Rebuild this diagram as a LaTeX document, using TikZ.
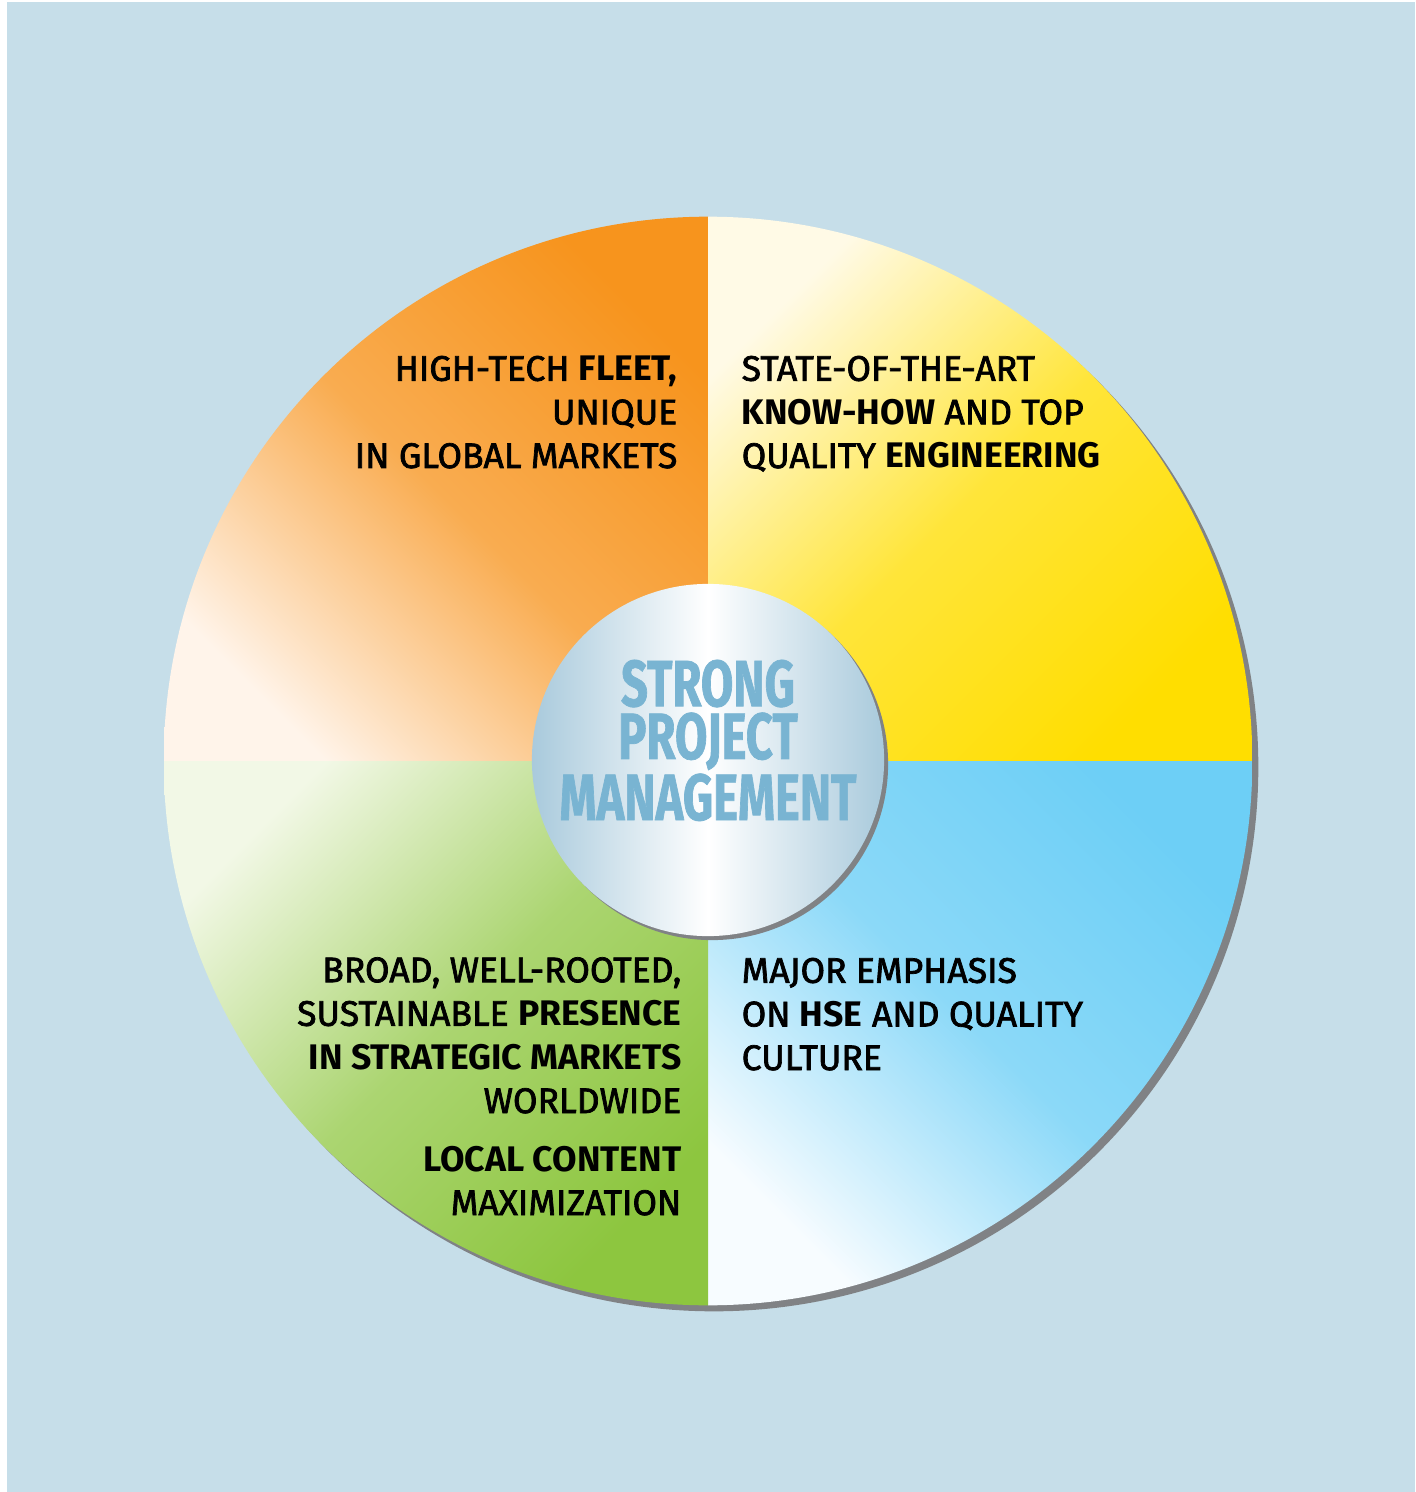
\documentclass[tikz,border=0pt]{standalone}
\usepackage{fontspec}
\setmainfont{Fira Sans}[UprightFeatures={FakeBold=2}]
\newfontfamily\condfont{Fira Sans}[FakeStretch=0.72, BoldFeatures={FakeBold=1}]

\definecolor{bgblue}{HTML}{C6DEE9}
\definecolor{shadowgray}{HTML}{808285}
\definecolor{orangedark}{HTML}{F7941D}
\definecolor{orangelight}{HTML}{FFF4EA}
\definecolor{yellowdark}{HTML}{FFDE00}
\definecolor{yellowlight}{HTML}{FFFAE6}
\definecolor{bluedark}{HTML}{6DCFF6}
\definecolor{bluelight}{HTML}{F7FCFF}
\definecolor{greendark}{HTML}{8DC63F}
\definecolor{greenlight}{HTML}{F2F8E6}
\definecolor{metal}{HTML}{A9CADC}
\definecolor{titleblue}{HTML}{79B4D2}

\tikzset{
  quadtext/.style={font=\fontsize{10.1}{12.4}\selectfont, text=black, inner sep=0pt},
  lefttext/.style={quadtext, anchor=base east, align=right},
  righttext/.style={quadtext, anchor=base west, align=left},
  titletext/.style={font=\condfont\bfseries\fontsize{18.6}{15}\selectfont, text=titleblue, inner sep=0pt, anchor=base, align=center}
}

\begin{document}
\begin{tikzpicture}[x=0.01cm,y=-0.01cm]

\useasboundingbox (0,0) rectangle (1415,1492);
\fill[white] (0,0) rectangle (1415,1492);
\fill[bgblue] (7,2) rectangle (1415,1492);

% outer wheel
\fill[shadowgray] (714,767) circle[radius=5.44cm];
\begin{scope}
\clip (708,761) circle[radius=5.44cm];
\shade[top color=orangedark, bottom color=orangelight, middle color=orangedark!75!orangelight, shading angle=-45] (164,217) rectangle (708,761);
\shade[top color=yellowdark, bottom color=yellowlight, middle color=yellowdark!75!yellowlight, shading angle=-135] (708,217) rectangle (1252,761);
\shade[top color=bluedark, bottom color=bluelight, middle color=bluedark!78!bluelight, shading angle=-45] (708,761) rectangle (1252,1305);
\shade[top color=greendark, bottom color=greenlight, middle color=greendark!70!greenlight, shading angle=-135] (164,761) rectangle (708,1305);
\end{scope}

% hub
\fill[shadowgray] (712,764) circle[radius=1.76cm];
\shade[left color=metal, right color=metal, middle color=white] (708,760) circle[radius=1.76cm];

\node[titletext] (core) at (708,820) {STRONG\\PROJECT\\MANAGEMENT};

\node[lefttext] (fleet) at (678,468) {HIGH-TECH \textbf{FLEET,}\\UNIQUE\\IN GLOBAL MARKETS};
\node[righttext] (knowhow) at (741,468) {STATE-OF-THE-ART\\\textbf{KNOW-HOW} AND TOP\\QUALITY \textbf{ENGINEERING}};
\node[righttext] (hse) at (741,1070) {MAJOR EMPHASIS\\ON \textbf{HSE} AND QUALITY\\CULTURE};
\node[lefttext] (presence) at (682,1113) {BROAD, WELL-ROOTED,\\SUSTAINABLE \textbf{PRESENCE}\\\textbf{IN STRATEGIC MARKETS}\\WORLDWIDE};
\node[lefttext] (localcontent) at (682,1215) {\textbf{LOCAL CONTENT}\\MAXIMIZATION};

\end{tikzpicture}
\end{document}
